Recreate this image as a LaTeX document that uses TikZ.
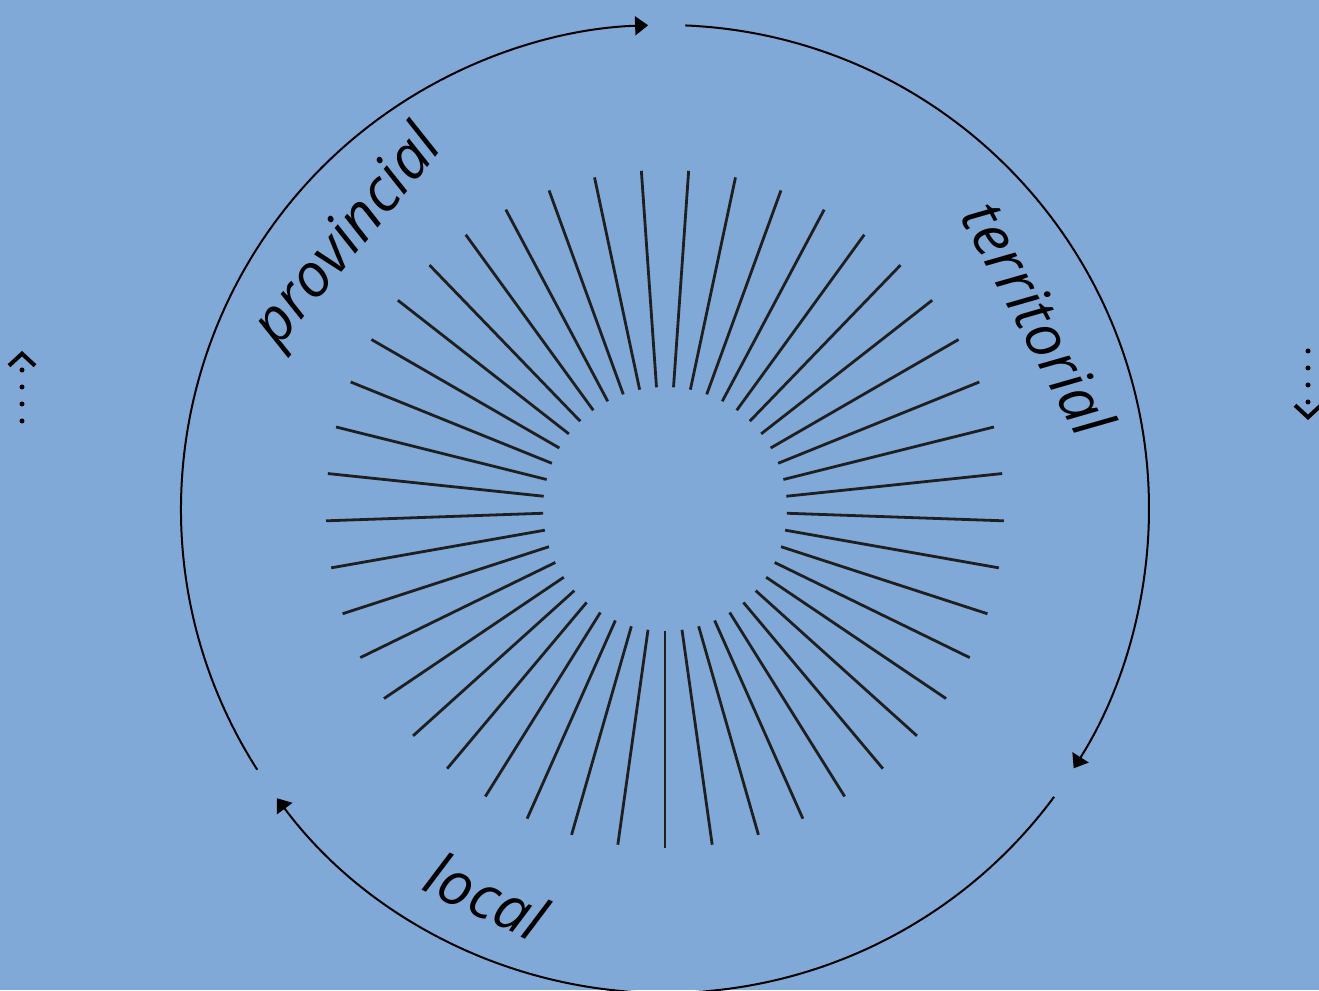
\documentclass[tikz,border=0pt]{standalone}
\usepackage{fontspec}
\setmainfont{Open Sans}
\usetikzlibrary{arrows.meta}
\definecolor{bg}{RGB}{128,169,216}
\begin{document}
\begin{tikzpicture}[x=1pt,y=1pt,
  ray/.style={line width=2.8pt, black!88},
  ring/.style={line width=2pt, -{Triangle[length=13pt,width=19pt]}},
  lbl/.style={font=\fontsize{60}{72}\selectfont\itshape, inner sep=0pt},
  more/.style={line width=5pt, line cap=round, dash pattern=on 0pt off 17pt, -{Straight Barb[length=12pt,width=26pt,line width=4pt]}}
]
\fill[bg] (0,0) rectangle (1319,990);
\useasboundingbox (0,0) rectangle (1319,990);
\coordinate (c) at (665,481);
\foreach \k in {0,...,44}{
  \draw[ray] ([shift={(270+8*\k:122)}]c) -- ([shift={(270+8*\k:339)}]c);
}
\draw[ring] ([shift={(212.6:484)}]c) arc[start angle=212.6, end angle=92, radius=484];
\draw[ring] ([shift={(87.6:484)}]c) arc[start angle=87.6, end angle=-32.4, radius=484];
\draw[ring] ([shift={(-36.5:484)}]c) arc[start angle=-36.5, end angle=-143.3, radius=484];
\node[lbl, rotate=50.5] (prov) at ([shift={(139.3:416)}]c) {provincial};
\node[lbl, rotate=-62] (terr) at ([shift={(27:420)}]c) {territorial};
\node[lbl, rotate=-25] (loc) at ([shift={(245.2:426)}]c) {local};
\coordinate (l1) at (22,569);
\coordinate (l2) at (22,639);
\draw[more] (l1) -- (l2);
\coordinate (r1) at (1308,639);
\coordinate (r2) at (1308,570);
\draw[more] (r1) -- (r2);
\end{tikzpicture}
\end{document}
